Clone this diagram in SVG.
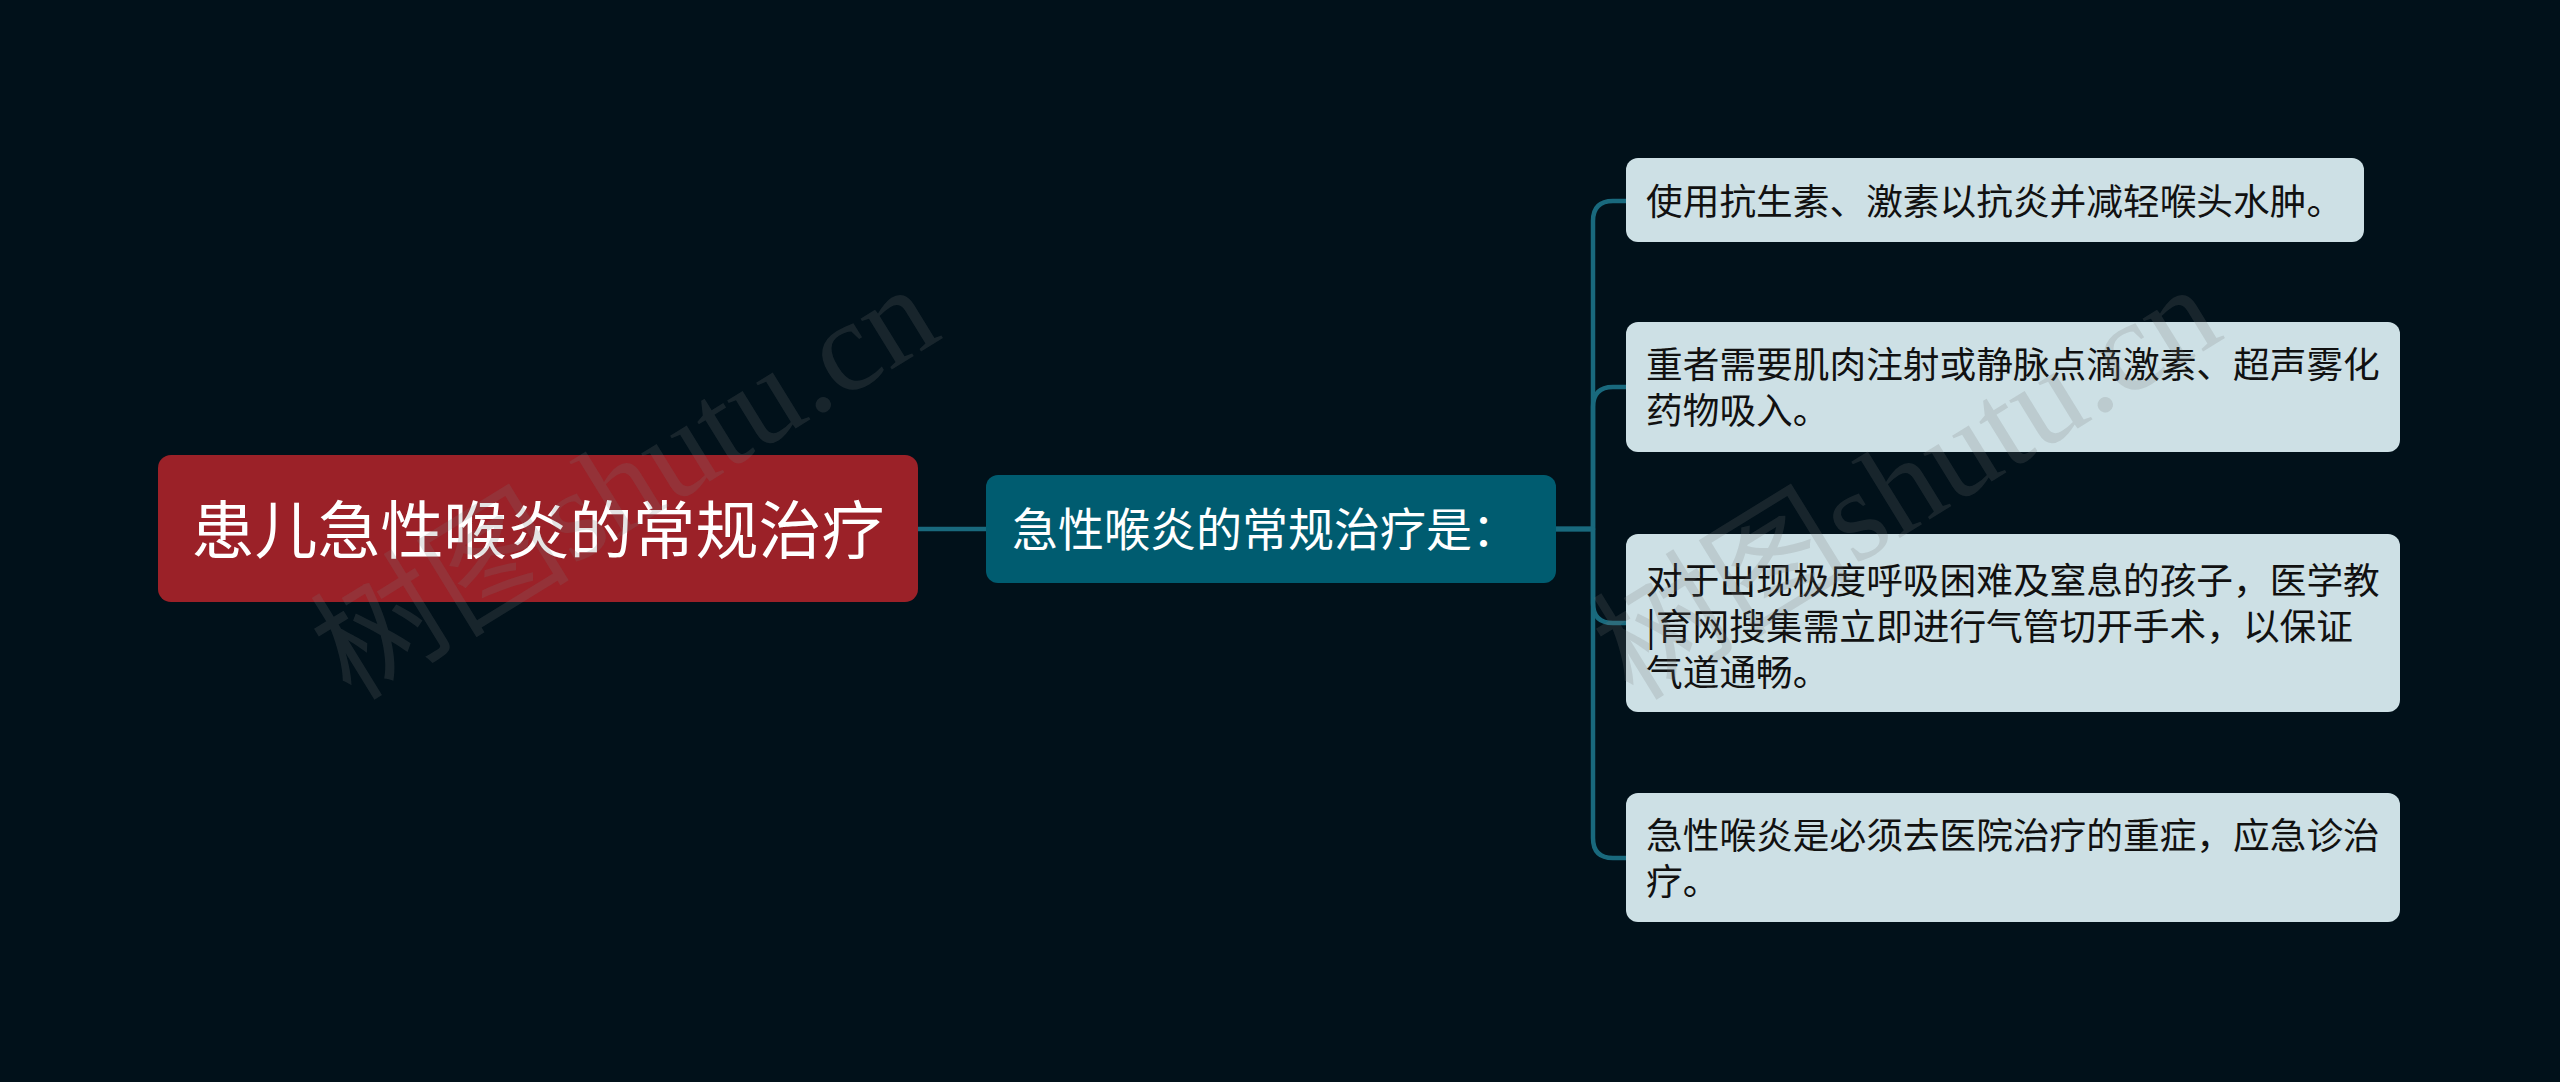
<svg xmlns="http://www.w3.org/2000/svg" width="2560" height="1082" viewBox="0 0 2560 1082">
<style>
.bg{fill:#01111a}
.root{fill:#9b2128}
.sub{fill:#005c70}
.leaf{fill:#cde0e5}
.t{font-family:"Noto Sans CJK SC","Noto Sans",sans-serif}
.rt{fill:#ffffff;font-size:63px}
.st{fill:#ffffff;font-size:46px}
.lt{fill:#111111;font-size:36.7px}
.edge{fill:none;stroke:#19697d;stroke-width:4.5;stroke-linecap:round;stroke-linejoin:round}
.wm{font-family:"Liberation Serif","Noto Sans CJK SC",serif;font-size:130px;fill:#7a7a7a;fill-opacity:0.2}
</style>
<rect class="bg" x="0" y="0" width="2560" height="1082"/>
<g id="connectors">
<path class="edge" d="M918 529 H986"/>
<path class="edge" d="M1556 529 H1593 V221 Q1593 201 1613 201 H1626"/>
<path class="edge" d="M1556 529 H1593 V407 Q1593 387 1613 387 H1626"/>
<path class="edge" d="M1556 529 H1593 V603 Q1593 623 1613 623 H1626"/>
<path class="edge" d="M1556 529 H1593 V838 Q1593 858 1613 858 H1626"/>
</g>
<g id="node-root">
<rect class="root" x="158" y="455" width="760" height="147" rx="13"/>
<text class="t rt" x="538" y="553" text-anchor="middle">患儿急性喉炎的常规治疗</text>
</g>
<g id="node-sub">
<rect class="sub" x="986" y="475" width="570" height="108" rx="12"/>
<text class="t st" x="1012" y="546">急性喉炎的常规治疗是：</text>
</g>
<g id="node-leaf1">
<rect class="leaf" x="1626" y="158" width="738" height="84" rx="12"/>
<text class="t lt" x="1646" y="215">使用抗生素、激素以抗炎并减轻喉头水肿。</text>
</g>
<g id="node-leaf2">
<rect class="leaf" x="1626" y="322" width="774" height="130" rx="12"/>
<text class="t lt" x="1646" y="378">重者需要肌肉注射或静脉点滴激素、超声雾化</text>
<text class="t lt" x="1646" y="424">药物吸入。</text>
</g>
<g id="node-leaf3">
<rect class="leaf" x="1626" y="534" width="774" height="178" rx="12"/>
<text class="t lt" x="1646" y="594">对于出现极度呼吸困难及窒息的孩子，医学教</text>
<text class="t lt" x="1646" y="640">|育网搜集需立即进行气管切开手术，以保证</text>
<text class="t lt" x="1646" y="686">气道通畅。</text>
</g>
<g id="node-leaf4">
<rect class="leaf" x="1626" y="793" width="774" height="129" rx="12"/>
<text class="t lt" x="1646" y="849">急性喉炎是必须去医院治疗的重症，应急诊治</text>
<text class="t lt" x="1646" y="895">疗。</text>
</g>
<g id="watermarks">
<text class="wm" x="351" y="702" transform="rotate(-31.6 351 702)">树图shutu.cn</text>
<text class="wm" x="1633" y="702" transform="rotate(-31.6 1633 702)">树图shutu.cn</text>
</g>
</svg>
